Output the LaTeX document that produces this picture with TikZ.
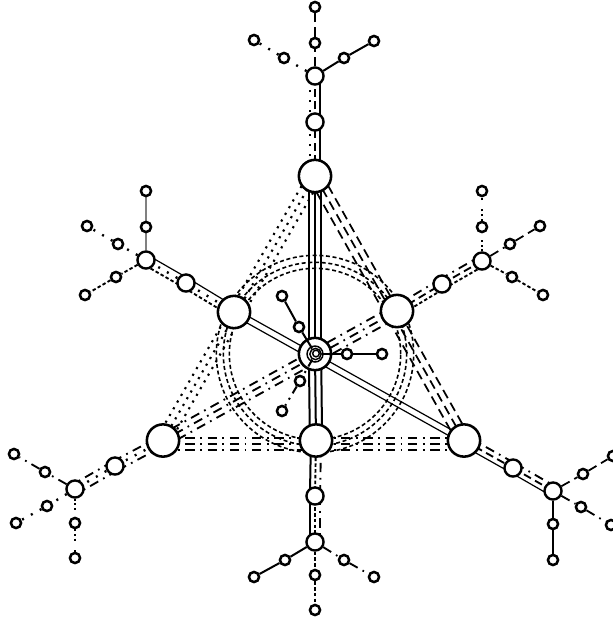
\documentclass[tikz,border=0pt]{standalone}
\usetikzlibrary{calc,backgrounds}
\tikzset{
  big/.style={circle,draw,fill=white,line width=1.9pt,inner sep=0pt,minimum size=24.2pt},
  mid/.style={circle,draw,fill=white,line width=1.8pt,inner sep=0pt,minimum size=12.8pt},
  leaf/.style={circle,draw,fill=white,line width=1.9pt,inner sep=0pt,minimum size=7.6pt},
  ringc/.style={circle,draw,inner sep=0pt},
  sol/.style={line width=1.5pt},
  thin sol/.style={line width=0.9pt},
  dsh/.style={line width=1.4pt,dash pattern=on 6pt off 3.5pt},
  sdsh/.style={line width=1.4pt,dash pattern=on 2.6pt off 1.7pt},
  dot/.style={line width=1.8pt,dash pattern=on 1.5pt off 6pt},
  sdot/.style={line width=1.6pt,dash pattern=on 1.6pt off 4.2pt},
  dd/.style={line width=1.4pt,dash pattern=on 7pt off 4.2pt on 1.3pt off 4.2pt},
  dbig/.style={line width=1.3pt,dash pattern=on 7pt off 4pt},
  trip/.style={line width=1.5pt,dash pattern=on 1.5pt off 2pt on 1.5pt off 2pt on 1.5pt off 7pt},
}
\newcommand{\tripleline}[6][3.8pt]{%
  \draw[#4] ($(#2)!#1!90:(#3)$) -- ($(#3)!#1!-90:(#2)$);
  \draw[#5] (#2.center) -- (#3.center);
  \draw[#6] ($(#2)!#1!-90:(#3)$) -- ($(#3)!#1!90:(#2)$);
}
\begin{document}
\begin{tikzpicture}[x=0.75pt,y=-0.75pt]
\useasboundingbox (0,0) rectangle (613,618);
% main nodes
\node[big] (T) at (315,176) {};
\node[big] (L) at (234,312) {};
\node[big] (R) at (397,311) {};
\node[big] (B) at (316,440.5) {};
\node[big] (BL) at (163,440.5) {};
\node[big] (BR) at (464,440.5) {};
\node[big] (c0) at (315,354) {};
\coordinate (O) at (315,354);
\coordinate (BLa) at (163,444);
\coordinate (BRa) at (464,444);
% arms
\node[mid] (Tm) at (315,122) {}; \node[mid] (Te) at (315,76) {};
\node[mid] (Lm) at (186,283) {}; \node[mid] (Le) at (146,260) {};
\node[mid] (Rm) at (442,284) {}; \node[mid] (Re) at (482,261) {};
\node[mid] (BLm) at (115,466) {}; \node[mid] (BLe) at (75,489) {};
\node[mid] (BRm) at (513,468) {}; \node[mid] (BRe) at (553,491) {};
\node[mid] (Bm) at (315,496) {}; \node[mid] (Be) at (315,542) {};
% leaves
\foreach \n/\x/\y in {a1/315/43,a2/315/7,a3/284/58,a4/254/40,a5/344/58,a6/374/41,
  b1/146/227,b2/146/191,b3/118/244,b4/87/226,b5/116/277,b6/85/295,
  d1/482/227,d2/482/191,d3/510/244,d4/540/226,d5/512/277,d6/543/295,
  e1/45/472,e2/14/454,e3/47/506,e4/16/523,e5/75/523,e6/75/558,
  f1/583/474,f2/613/456,f3/581/507,f4/611/525,f5/553/524,f6/553/560,
  g1/315/575,g2/315/610,g3/285/560,g4/254/577,g5/344/560,g6/374/577,
  h1/299/327,h2/282/296,h3/347/354,h4/382/354,h5/300/381,h6/282/411}
  {\node[leaf] (\n) at (\x,\y) {};}
\node[circle,draw,line width=1.1pt,inner sep=0pt,minimum size=12pt] (c1) at (315,354) {};
\node[circle,draw,line width=1.1pt,inner sep=0pt,minimum size=8.5pt] (c2) at (315.5,354) {};
\node[circle,draw,line width=1.1pt,inner sep=0pt,minimum size=5pt] (c3) at (316,353.5) {};
% inner connectors
\draw[sol] (c2) -- (h1) -- (h2);
\draw[sol] (c2) -- (h3) -- (h4);
\draw[line width=1.5pt,dash pattern=on 6pt off 4pt on 1.5pt off 4pt] (c2) -- (h5) -- (h6);
\begin{scope}[on background layer]
  % rings
  \node[ringc,line width=1.2pt,dash pattern=on 3pt off 2pt,minimum size=148pt] (r1) at (O) {};
  \node[ringc,line width=1.2pt,dash pattern=on 3pt off 2pt,minimum size=137.5pt] (r2) at (O) {};
  \node[ringc,line width=1.2pt,dash pattern=on 3pt off 2pt,minimum size=128.5pt] (r3) at (O) {};
  % triangle
  \tripleline[5pt]{T}{BL}{sdot}{sdot}{sdot}
  \tripleline[5pt]{T}{BR}{dbig}{dbig}{dbig}
  \draw[dd] ($(BLa)+(0,-6)$) -- ($(BRa)+(0,-6)$);
  \draw[dd] (BLa) -- (BRa);
  \draw[dd] ($(BLa)+(0,6)$) -- ($(BRa)+(0,6)$);
  % spokes
  \tripleline[4.6pt]{T}{c0}{sol}{sol}{sol}
  \tripleline[4.6pt]{B}{c0}{sol}{sol}{sol}
  \draw[thin sol] ($(L)!2.4pt!90:(BR)$) -- ($(BR)!2.4pt!-90:(L)$);
  \draw[thin sol] ($(L)!2.4pt!-90:(BR)$) -- ($(BR)!2.4pt!90:(L)$);
  \tripleline[4.6pt]{R}{BL}{dd}{dd}{dd}
  % arms
  \tripleline{T}{Tm}{dot}{dsh}{sol}
  \tripleline{Tm}{Te}{dot}{dsh}{sol}
  \tripleline{L}{Lm}{sdsh}{dot}{thin sol}
  \tripleline{Lm}{Le}{sdsh}{dot}{thin sol}
  \tripleline{R}{Rm}{dd}{dsh}{sdsh}
  \tripleline{Rm}{Re}{dd}{dsh}{sdsh}
  \tripleline{BL}{BLm}{dd}{dot}{dd}
  \tripleline{BLm}{BLe}{dd}{dot}{dd}
  \tripleline{BR}{BRm}{dd}{dsh}{thin sol}
  \tripleline{BRm}{BRe}{dd}{dsh}{thin sol}
  \tripleline{B}{Bm}{dd}{sdsh}{sol}
  \tripleline{Bm}{Be}{dd}{sdsh}{sol}
  % leaves
  \draw[dbig] (Te) -- (a1) -- (a2);
  \draw[dot] (Te) -- (a3) -- (a4);
  \draw[sol] (Te) -- (a5) -- (a6);
  \draw[sol,gray] (Le) -- (b1) -- (b2);
  \draw[dot] (Le) -- (b3) -- (b4);
  \draw[sdsh] (Le) -- (b5) -- (b6);
  \draw[trip] (Re) -- (d1) -- (d2);
  \draw[dbig] (Re) -- (d3) -- (d4);
  \draw[sdsh] (Re) -- (d5) -- (d6);
  \draw[dd] (BLe) -- (e1) -- (e2);
  \draw[dot] (BLe) -- (e3) -- (e4);
  \draw[trip] (BLe) -- (e5) -- (e6);
  \draw[dbig] (BRe) -- (f1) -- (f2);
  \draw[dd] (BRe) -- (f3) -- (f4);
  \draw[sol] (BRe) -- (f5) -- (f6);
  \draw[sdsh] (Be) -- (g1) -- (g2);
  \draw[sol] (Be) -- (g3) -- (g4);
  \draw[dd] (Be) -- (g5) -- (g6);
\end{scope}
\end{tikzpicture}
\end{document}
